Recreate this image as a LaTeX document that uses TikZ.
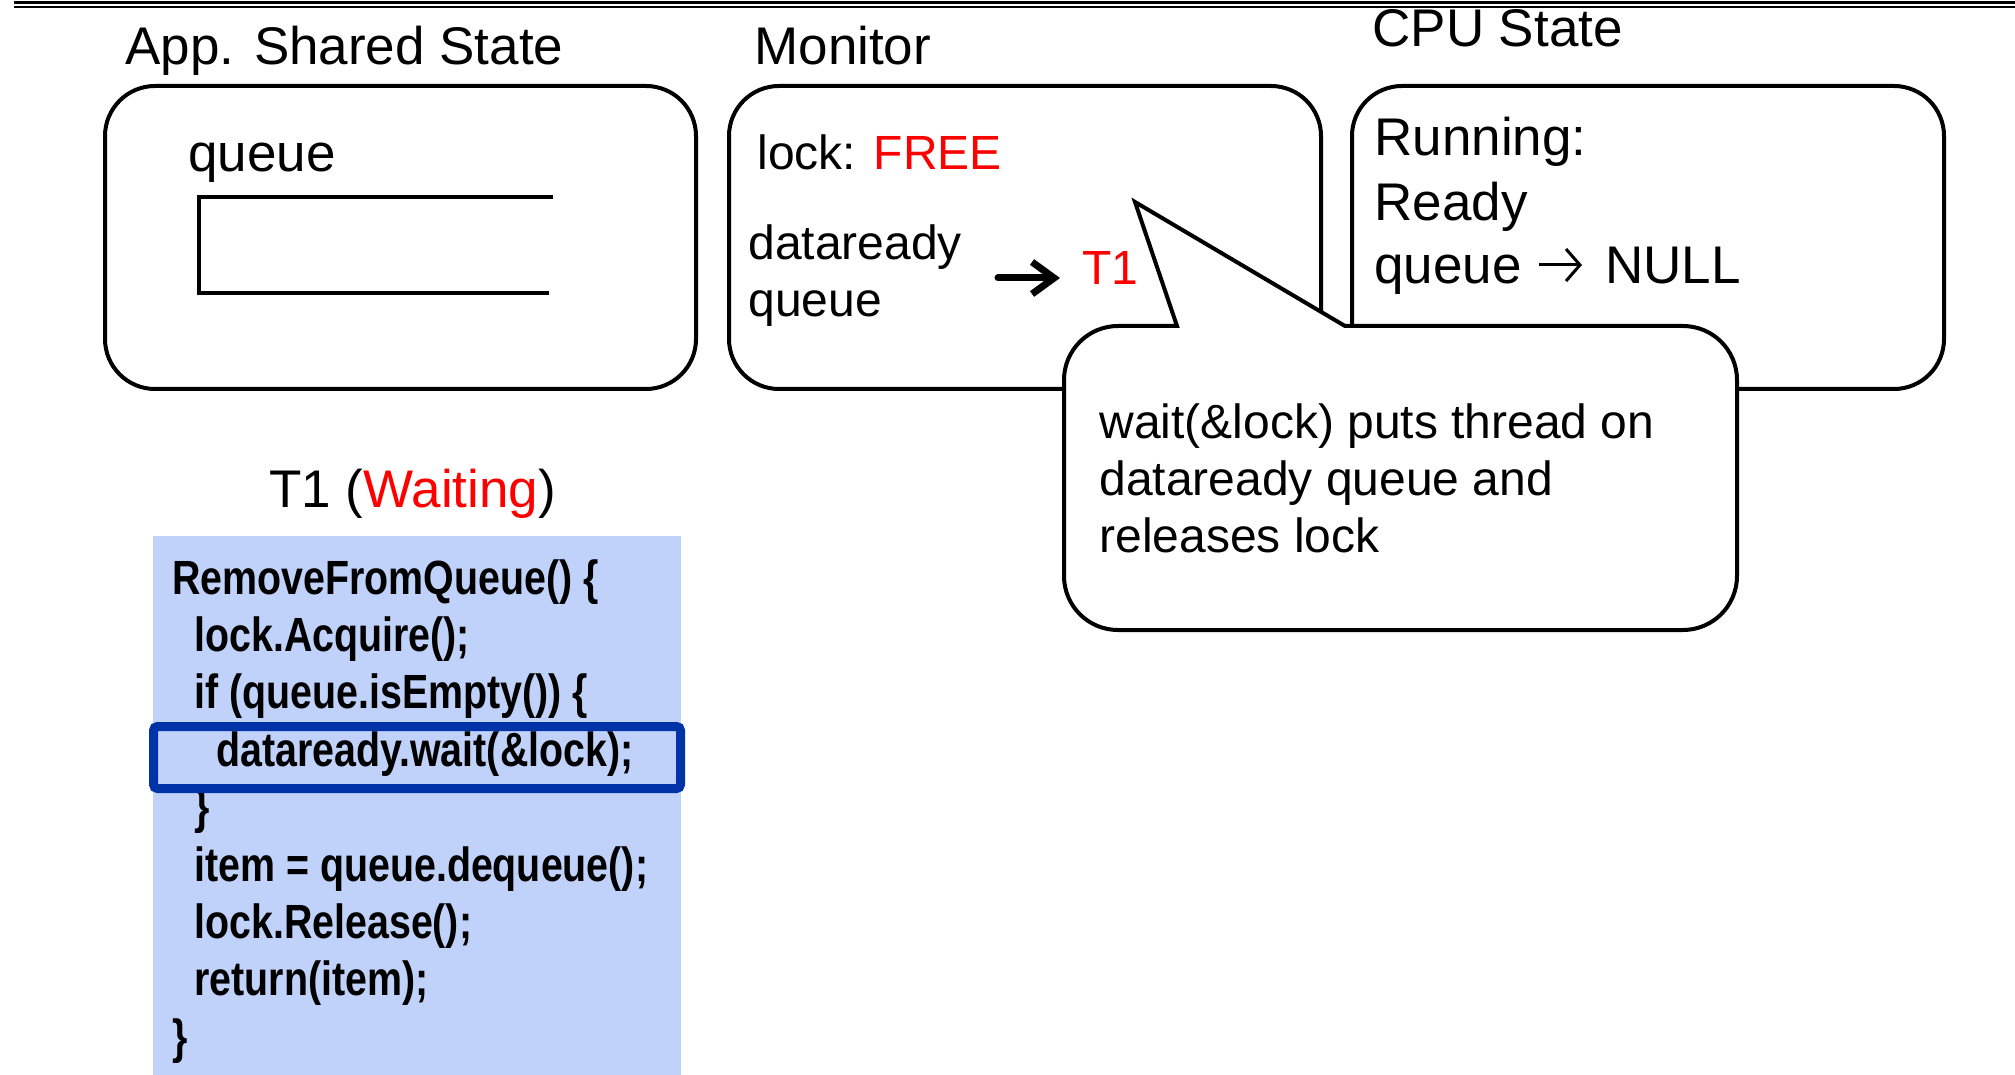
\documentclass[tikz,border=0pt]{standalone}
\usepackage{fontspec}
\setmainfont{Liberation Sans}
\newfontfamily\codefont[FakeStretch=0.82]{Liberation Sans}
\usetikzlibrary{arrows.meta}
\definecolor{codebg}{RGB}{192,210,250}
\definecolor{hlblue}{RGB}{0,51,168}
\definecolor{txtred}{RGB}{255,0,0}
\begin{document}
\begin{tikzpicture}[x=0.5pt,y=-0.5pt,
  box/.style={draw=black, line width=2pt, rounded corners=25pt},
  lbl/.style={anchor=base west, inner sep=0pt, font=\fontsize{24}{28}\selectfont},
  big/.style={anchor=base west, inner sep=0pt, font=\fontsize{26.5}{32}\selectfont},
  codeline/.style={anchor=base west, inner sep=0pt, font=\codefont\bfseries\fontsize{24}{28}\selectfont},
  arr/.style={line width=3.5pt, line cap=round, -{Straight Barb[length=11pt,width=16pt,line width=3.5pt]}},
  arrthin/.style={line width=1.5pt, -{Straight Barb[length=7pt,width=16pt,line width=1.5pt]}},
]
\useasboundingbox[fill=white] (0,0) rectangle (2015,1075);
% top rules
\draw[line width=1.4pt] (14,2.5) -- (2015,2.5);
\draw[line width=0.9pt] (14,6.7) -- (2015,6.7);

% titles
\node[big] (tApp) at (125,65) {App. Shared State};
\node[big] (tMon) at (754,65) {Monitor};
\node[big] (tCpu) at (1372,47) {CPU State};

% boxes
\draw[box] (105,86) rectangle (696,389);
\draw[box] (729,86) rectangle (1321,389);
\draw[box] (1352,86) rectangle (1944,389);

% app shared state
\node[big] (qlbl) at (188,172) {queue};
\draw[line width=2pt] (553,197) -- (199,197) -- (199,293) -- (549,293);

% monitor
\node[lbl] (lock) at (757,170) {lock: \textcolor{txtred}{FREE}};
\node[lbl] (dr1) at (748,260) {dataready};
\node[lbl] (dr2) at (748,317) {queue};
\node[lbl, text=txtred] (t1) at (1082,285) {T1};
\coordinate (arrS) at (998,278);
\coordinate (arrE) at (1060,278);
\draw[arr] (arrS) -- (arrE);

% cpu state
\node[big] (run) at (1374,156) {Running:};
\node[big] (rdy) at (1374,221) {Ready};
\node[big] (rq) at (1374,284) {queue};
\node[big] (null) at (1605,284) {NULL};
\coordinate (a2S) at (1539,265);
\coordinate (a2E) at (1582,265);
\draw[arrthin] (a2S) -- (a2E);

% callout
\draw[line width=2pt, fill=white, line join=miter]
  (1177,326) -- (1135,202) -- (1345,326) -- (1683,326) arc (90:0:27pt)
  -- (1737,576) arc (0:-90:27pt) -- (1118,630) arc (-90:-180:27pt)
  -- (1064,380) arc (180:90:27pt) -- cycle;
\node[lbl] (c1) at (1099,438) {wait(\&lock) puts thread on};
\node[lbl] (c2) at (1099,495) {dataready queue and};
\node[lbl] (c3) at (1099,552) {releases lock};

% thread
\node[big] (thr) at (269,507) {T1 (\textcolor{txtred}{Waiting})};
\fill[codebg] (153,536) rectangle (681,1075);
\node[codeline] (l1) at (172,594) {RemoveFromQueue() \{};
\node[codeline] (l2) at (194,651.4) {lock.Acquire();};
\node[codeline] (l3) at (194,708.8) {if (queue.isEmpty()) \{};
\node[codeline] (l4) at (216,766.2) {dataready.wait(\&lock);};
\node[codeline] (l5) at (194,823.6) {\}};
\node[codeline] (l6) at (194,881) {item = queue.dequeue();};
\node[codeline] (l7) at (194,938.4) {lock.Release();};
\node[codeline] (l8) at (194,995.8) {return(item);};
\node[codeline] (l9) at (172,1053.2) {\}};
\draw[hlblue, line width=4.5pt, rounded corners=2pt] (153.5,726.5) rectangle (680.5,788.5);
\end{tikzpicture}
\end{document}
